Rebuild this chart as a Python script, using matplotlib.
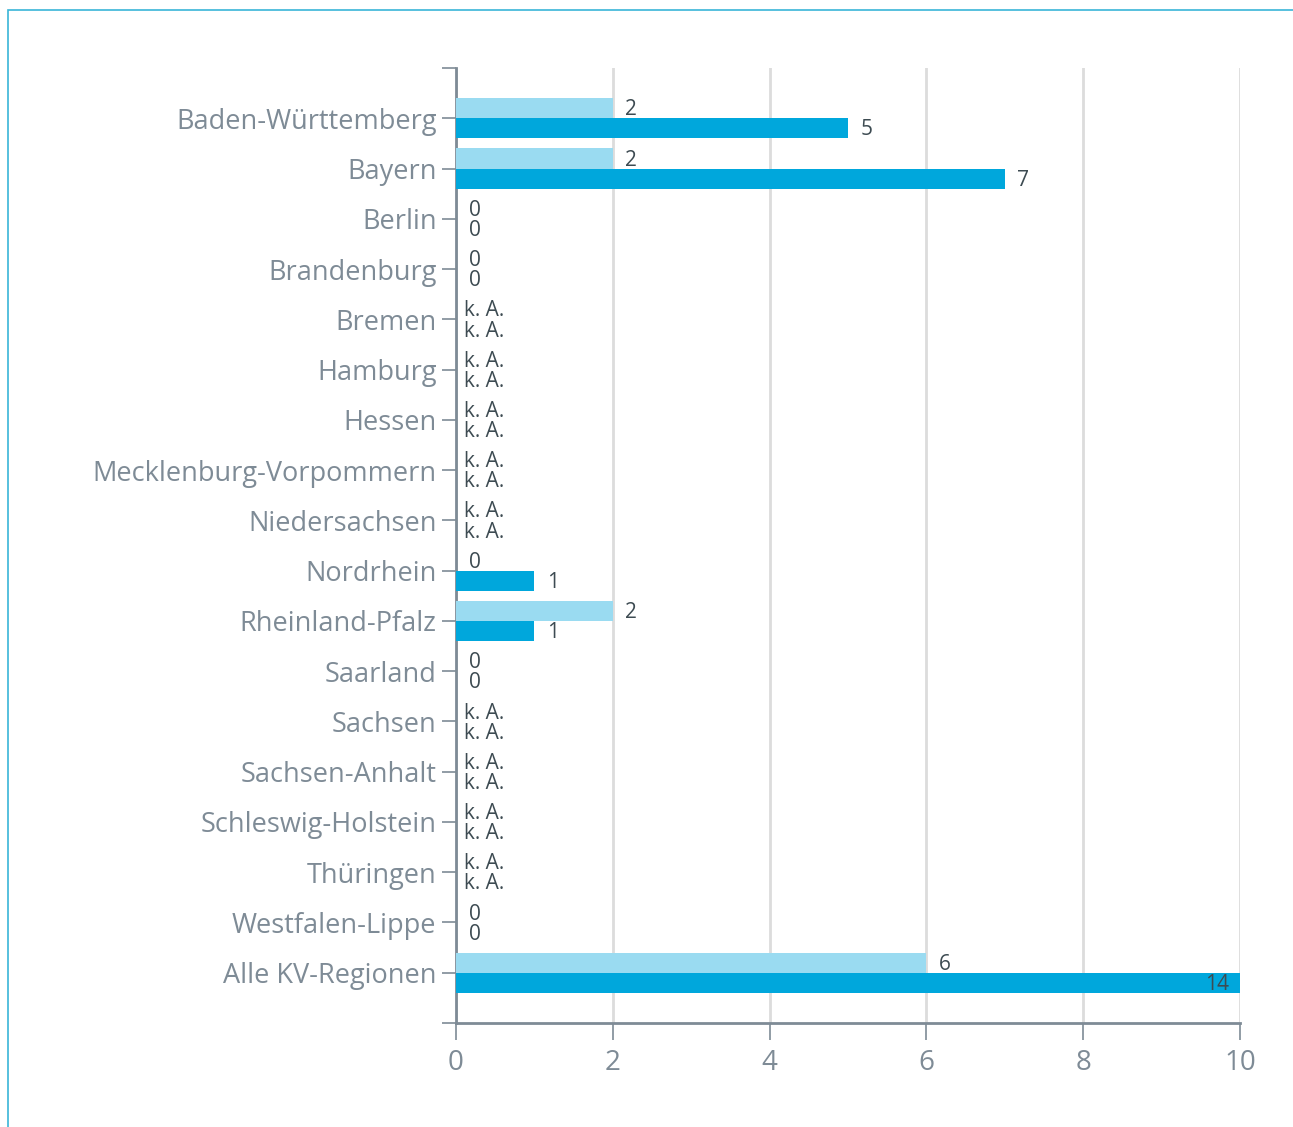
import matplotlib.pyplot as plt
from matplotlib.patches import Rectangle
import numpy as np

plt.rcParams['font.family'] = ['Open Sans', 'DejaVu Sans']

regions = ["Baden-Württemberg", "Bayern", "Berlin", "Brandenburg", "Bremen",
           "Hamburg", "Hessen", "Mecklenburg-Vorpommern", "Niedersachsen",
           "Nordrhein", "Rheinland-Pfalz", "Saarland", "Sachsen",
           "Sachsen-Anhalt", "Schleswig-Holstein", "Thüringen",
           "Westfalen-Lippe", "Alle KV-Regionen"]
# None = k. A. (keine Angabe)
light_vals = [2, 2, 0, 0, None, None, None, None, None, 0, 2, 0, None, None, None, None, 0, 6]
dark_vals = [5, 7, 0, 0, None, None, None, None, None, 1, 1, 0, None, None, None, None, 0, 14]
xticks = [0, 2, 4, 6, 8, 10]

light_c = "#9adbf1"
dark_c = "#00a7dc"
axis_grey = "#7e8b96"
label_c = "#3d4b52"

fig = plt.figure(figsize=(12.93, 11.27), dpi=100)
ax = fig.add_axes([456 / 1293, 1 - 1023 / 1127, (1240 - 456) / 1293, (1023 - 68) / 1127])

y = np.arange(len(regions))
h = 0.4
xmax = 10

for i, (lv, dv) in enumerate(zip(light_vals, dark_vals)):
    for v, off, col in ((lv, -h / 2, light_c), (dv, h / 2, dark_c)):
        yy = i + off
        if v is None:
            ax.annotate("k. A.", (0, yy), xytext=(6, -1.2), textcoords="offset points",
                        va="center", ha="left", fontsize=15, color=label_c)
            continue
        if v > 0:
            ax.barh(yy, min(v, xmax), height=h, color=col, edgecolor="none", zorder=3)
        if v > xmax:
            ax.annotate(str(v), (xmax, yy), xytext=(-8, -1.2), textcoords="offset points",
                        va="center", ha="right", fontsize=15, color=label_c, zorder=4)
        else:
            ax.annotate(str(v), (v, yy), xytext=(9, -1.2), textcoords="offset points",
                        va="center", ha="left", fontsize=15, color=label_c, zorder=4)

ax.set_xlim(0, xmax)
ax.set_ylim(len(regions), -1)
ax.set_xticks(xticks)
ax.set_yticks(list(y) + [-1, len(regions)])
ax.set_yticklabels(regions + ["", ""])

ax.grid(axis="x", color="#dcdcdc", linewidth=2, zorder=0)
ax.set_axisbelow(True)
for s in ("top", "right"):
    ax.spines[s].set_visible(False)
for s in ("left", "bottom"):
    ax.spines[s].set_color(axis_grey)
    ax.spines[s].set_linewidth(2)
ax.tick_params(axis="y", length=10, width=1.2, color=axis_grey, labelsize=19.5,
               labelcolor=axis_grey, pad=4)
ax.tick_params(axis="x", length=12, width=1.2, color=axis_grey, labelsize=20,
               labelcolor=axis_grey, pad=7)

# Rahmen
fig.patches.append(Rectangle((8 / 1293, -0.1), 1.2, (1 - 10 / 1127) + 0.1,
                             transform=fig.transFigure, fill=False,
                             edgecolor="#3ab5d8", linewidth=1.2))

fig.savefig("out.png", dpi=100)
